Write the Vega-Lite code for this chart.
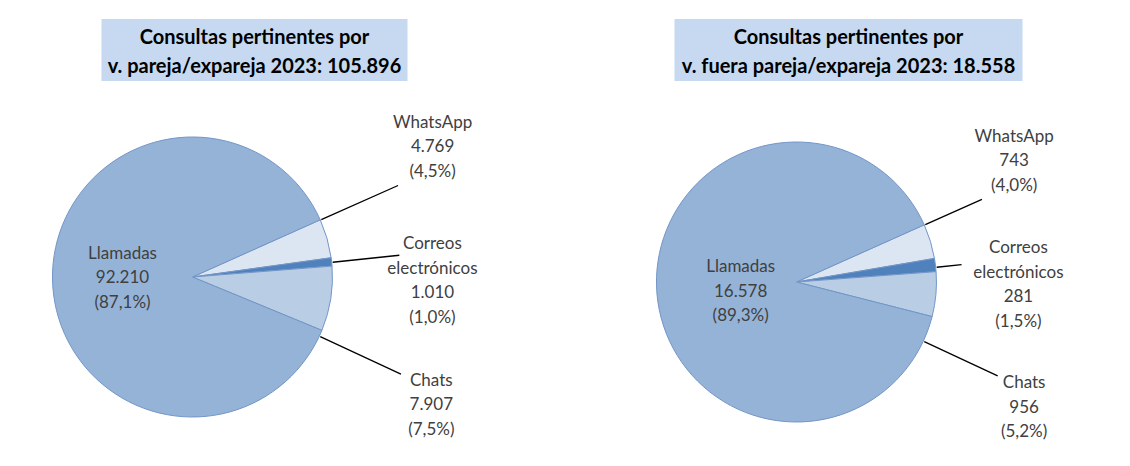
{
  "$schema": "https://vega.github.io/schema/vega-lite/v6.json",
  "background": "white",
  "padding": {"left": 31, "top": 19, "right": 0, "bottom": 0},
  "config": {"view": {"stroke": null}, "text": {"font": "Lato"}},
  "datasets": {
    "pareja": [
      {"cat": "WhatsApp", "value": 4769, "ord": 1, "label": ["WhatsApp", "4.769", "(4,5%)"]},
      {"cat": "Correos", "value": 1010, "ord": 2, "label": ["Correos", "electrónicos", "1.010", "(1,0%)"]},
      {"cat": "Chats", "value": 7907, "ord": 3, "label": ["Chats", "7.907", "(7,5%)"]},
      {"cat": "Llamadas", "value": 92210, "ord": 4, "label": ["Llamadas", "92.210", "(87,1%)"]}
    ],
    "fuera": [
      {"cat": "WhatsApp", "value": 743, "ord": 1, "label": ["WhatsApp", "743", "(4,0%)"]},
      {"cat": "Correos", "value": 281, "ord": 2, "label": ["Correos", "electrónicos", "281", "(1,5%)"]},
      {"cat": "Chats", "value": 956, "ord": 3, "label": ["Chats", "956", "(5,2%)"]},
      {"cat": "Llamadas", "value": 16578, "ord": 4, "label": ["Llamadas", "16.578", "(89,3%)"]}
    ]
  },
  "spacing": 155,
  "hconcat": [
    {
      "spacing": 7,
      "center": true,
      "vconcat": [
        {
          "data": {"values": [{"t": ["Consultas pertinentes por", "v. pareja/expareja 2023: 105.896"]}]},
          "width": 306,
          "height": 62,
          "view": {"fill": "#c6d9f1", "stroke": null},
          "mark": {"type": "text", "fontWeight": "bold", "fontSize": 20, "lineHeight": 29, "baseline": "middle", "align": "center", "dy": -12, "color": "#000000"},
          "encoding": {"text": {"field": "t"}}
        },
        {
          "data": {"name": "pareja"},
          "width": 322,
          "height": 378,
          "layer": [
            {
              "mark": {"type": "arc", "outerRadius": 140, "stroke": "#7396c8", "strokeWidth": 1},
              "encoding": {
                "theta": {"field": "value", "type": "quantitative", "stack": true, "scale": {"range": [1.15, 7.4332]}},
                "order": {"field": "ord", "type": "quantitative"},
                "color": {"field": "cat", "type": "nominal", "scale": {"domain": ["Llamadas", "WhatsApp", "Correos", "Chats"], "range": ["#95b3d7", "#dce6f2", "#4f81bd", "#b9cde5"]}, "legend": null}
              }
            },
            {
              "transform": [{"filter": "datum.cat === 'WhatsApp' || datum.cat === 'Chats'"}],
              "mark": {"type": "arc", "stroke": "#000000", "strokeWidth": 1.3, "fill": null},
              "encoding": {
                "theta": {"field": "cat", "type": "nominal", "scale": {"type": "point", "domain": ["WhatsApp", "Chats"], "range": [1.152, 2.007], "padding": 0}},
                "theta2": {"field": "cat"},
                "radius": {"field": "cat", "type": "nominal", "scale": {"type": "point", "domain": ["WhatsApp", "Chats"], "range": [225, 230], "padding": 0}},
                "radius2": {"value": 141}
              }
            },
            {
              "transform": [{"filter": "datum.cat === 'Correos'"}],
              "mark": {"type": "arc", "stroke": "#000000", "strokeWidth": 1.3, "fill": null},
              "encoding": {
                "theta": {"field": "cat", "type": "nominal", "scale": {"type": "point", "domain": ["Correos"], "range": [1.466, 1.466], "padding": 0}},
                "theta2": {"field": "cat"},
                "radius": {"field": "cat", "type": "nominal", "scale": {"type": "point", "domain": ["Correos"], "range": [208, 208], "padding": 0}},
                "radius2": {"value": 141}
              }
            },
            {
              "mark": {"type": "text", "radius": 70, "fontSize": 17, "lineHeight": 24.5, "color": "#404040", "baseline": "middle", "align": "center", "dy": -24.5},
              "encoding": {
                "theta": {"field": "value", "type": "quantitative", "stack": true, "scale": {"range": [1.15, 7.4332]}},
                "order": {"field": "ord", "type": "quantitative"},
                "text": {"condition": {"test": "datum.cat === 'Llamadas'", "field": "label", "type": "nominal"}, "value": ""}
              }
            },
            {
              "transform": [{"filter": "datum.cat === 'WhatsApp' || datum.cat === 'Chats'"}],
              "mark": {"type": "text", "fontSize": 17, "lineHeight": 24.5, "color": "#404040", "baseline": "middle", "align": "center", "dy": -24.5},
              "encoding": {
                "theta": {"field": "cat", "type": "nominal", "scale": {"type": "point", "domain": ["WhatsApp", "Chats"], "range": [1.075, 2.063], "padding": 0}},
                "radius": {"field": "cat", "type": "nominal", "scale": {"type": "point", "domain": ["WhatsApp", "Chats"], "range": [273, 271], "padding": 0}},
                "text": {"field": "label"}
              }
            },
            {
              "transform": [{"filter": "datum.cat === 'Correos'"}],
              "mark": {"type": "text", "fontSize": 17, "lineHeight": 24.5, "color": "#404040", "baseline": "middle", "align": "center", "dy": -36.75},
              "encoding": {
                "theta": {"field": "cat", "type": "nominal", "scale": {"type": "point", "domain": ["Correos"], "range": [1.588, 1.588], "padding": 0}},
                "radius": {"field": "cat", "type": "nominal", "scale": {"type": "point", "domain": ["Correos"], "range": [240, 240], "padding": 0}},
                "text": {"field": "label"}
              }
            }
          ],
          "resolve": {"scale": {"theta": "independent", "radius": "independent"}}
        }
      ]
    },
    {
      "spacing": 17,
      "center": true,
      "vconcat": [
        {
          "data": {"values": [{"t": ["Consultas pertinentes por", "v. fuera pareja/expareja 2023: 18.558"]}]},
          "width": 348,
          "height": 62,
          "view": {"fill": "#c6d9f1", "stroke": null},
          "mark": {"type": "text", "fontWeight": "bold", "fontSize": 20, "lineHeight": 29, "baseline": "middle", "align": "center", "dy": -12, "color": "#000000"},
          "encoding": {"text": {"field": "t"}}
        },
        {
          "data": {"name": "fuera"},
          "width": 326,
          "height": 368,
          "layer": [
            {
              "mark": {"type": "arc", "outerRadius": 140, "stroke": "#7396c8", "strokeWidth": 1},
              "encoding": {
                "theta": {"field": "value", "type": "quantitative", "stack": true, "scale": {"range": [1.15, 7.4332]}},
                "order": {"field": "ord", "type": "quantitative"},
                "color": {"field": "cat", "type": "nominal", "scale": {"domain": ["Llamadas", "WhatsApp", "Correos", "Chats"], "range": ["#95b3d7", "#dce6f2", "#4f81bd", "#b9cde5"]}, "legend": null}
              }
            },
            {
              "transform": [{"filter": "datum.cat === 'WhatsApp' || datum.cat === 'Chats'"}],
              "mark": {"type": "arc", "stroke": "#000000", "strokeWidth": 1.3, "fill": null},
              "encoding": {
                "theta": {"field": "cat", "type": "nominal", "scale": {"type": "point", "domain": ["WhatsApp", "Chats"], "range": [1.152, 2.007], "padding": 0}},
                "theta2": {"field": "cat"},
                "radius": {"field": "cat", "type": "nominal", "scale": {"type": "point", "domain": ["WhatsApp", "Chats"], "range": [203, 222], "padding": 0}},
                "radius2": {"value": 141}
              }
            },
            {
              "transform": [{"filter": "datum.cat === 'Correos'"}],
              "mark": {"type": "arc", "stroke": "#000000", "strokeWidth": 1.3, "fill": null},
              "encoding": {
                "theta": {"field": "cat", "type": "nominal", "scale": {"type": "point", "domain": ["Correos"], "range": [1.466, 1.466], "padding": 0}},
                "theta2": {"field": "cat"},
                "radius": {"field": "cat", "type": "nominal", "scale": {"type": "point", "domain": ["Correos"], "range": [166, 166], "padding": 0}},
                "radius2": {"value": 141}
              }
            },
            {
              "mark": {"type": "text", "radius": 56, "fontSize": 17, "lineHeight": 24.5, "color": "#404040", "baseline": "middle", "align": "center", "dy": -19.5},
              "encoding": {
                "theta": {"field": "value", "type": "quantitative", "stack": true, "scale": {"range": [1.15, 7.4332]}},
                "order": {"field": "ord", "type": "quantitative"},
                "text": {"condition": {"test": "datum.cat === 'Llamadas'", "field": "label", "type": "nominal"}, "value": ""}
              }
            },
            {
              "transform": [{"filter": "datum.cat === 'WhatsApp' || datum.cat === 'Chats'"}],
              "mark": {"type": "text", "fontSize": 17, "lineHeight": 24.5, "color": "#404040", "baseline": "middle", "align": "center", "dy": -24.5},
              "encoding": {
                "theta": {"field": "cat", "type": "nominal", "scale": {"type": "point", "domain": ["WhatsApp", "Chats"], "range": [1.064, 2.075], "padding": 0}},
                "radius": {"field": "cat", "type": "nominal", "scale": {"type": "point", "domain": ["WhatsApp", "Chats"], "range": [249, 260], "padding": 0}},
                "text": {"field": "label"}
              }
            },
            {
              "transform": [{"filter": "datum.cat === 'Correos'"}],
              "mark": {"type": "text", "fontSize": 17, "lineHeight": 24.5, "color": "#404040", "baseline": "middle", "align": "center", "dy": -36.75},
              "encoding": {
                "theta": {"field": "cat", "type": "nominal", "scale": {"type": "point", "domain": ["Correos"], "range": [1.585, 1.585], "padding": 0}},
                "radius": {"field": "cat", "type": "nominal", "scale": {"type": "point", "domain": ["Correos"], "range": [222, 222], "padding": 0}},
                "text": {"field": "label"}
              }
            }
          ],
          "resolve": {"scale": {"theta": "independent", "radius": "independent"}}
        }
      ]
    }
  ]
}
